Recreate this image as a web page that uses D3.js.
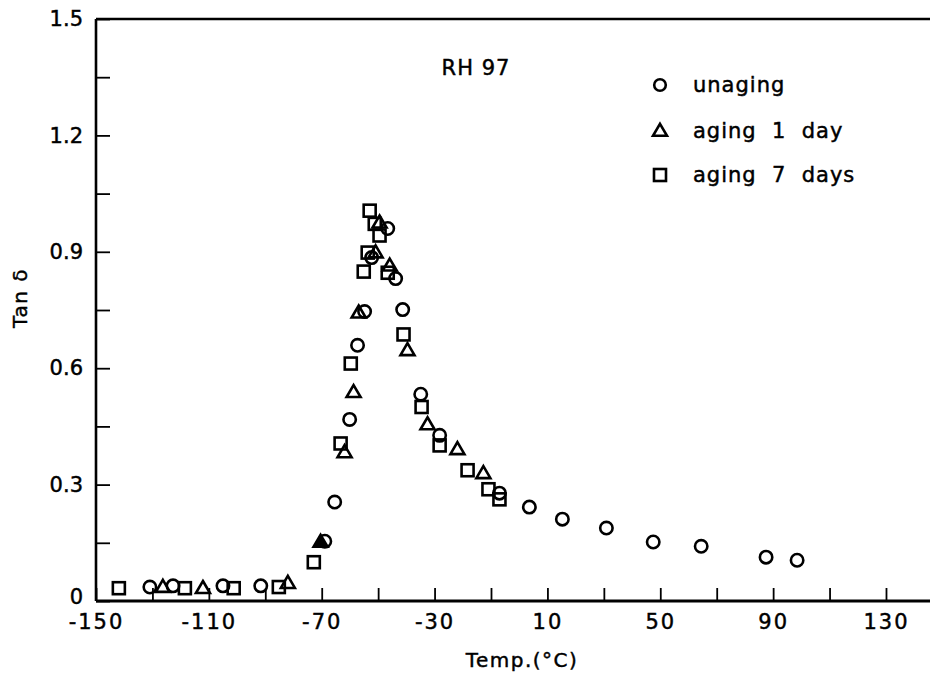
<!DOCTYPE html>
<html>
<head>
<meta charset="utf-8">
<script src="https://cdn.jsdelivr.net/npm/d3@7"></script>
<style>
  html, body { margin: 0; padding: 0; background: #fff; }
  svg text { font-family: "DejaVu Sans", sans-serif; fill: #000; white-space: pre; stroke: #000; stroke-width: 0.45px; }
</style>
</head>
<body>
<svg id="chart" width="930" height="678"></svg>
<script>
// ---- data ----
const unagingTemp = [-130.9, -122.7, -105.0, -91.6, -68.9, -65.4, -60.1, -57.3, -54.8, -52.3, -46.6, -43.8, -41.3, -34.9, -28.2, -7.0, 3.6, 15.3, 30.9, 47.5, 64.5, 87.5, 98.5];
const unagingTan  = [0.036, 0.039, 0.039, 0.039, 0.154, 0.255, 0.468, 0.659, 0.746, 0.885, 0.960, 0.831, 0.751, 0.533, 0.427, 0.278, 0.242, 0.211, 0.188, 0.152, 0.141, 0.113, 0.105];

const aging1Temp = [-126.3, -112.1, -82.0, -70.4, -61.9, -58.7, -56.9, -50.9, -49.5, -45.9, -39.6, -32.5, -21.9, -12.7];
const aging1Tan  = [0.036, 0.033, 0.046, 0.152, 0.383, 0.538, 0.743, 0.898, 0.975, 0.864, 0.646, 0.455, 0.391, 0.329];
const aging1Solid = [false, false, false, true, false, false, false, false, false, false, false, false, false, false];

const aging7Temp = [-141.9, -118.5, -101.2, -85.2, -72.8, -63.3, -59.7, -55.1, -53.7, -53.0, -51.2, -49.5, -46.6, -41.0, -34.6, -28.2, -18.3, -10.9, -7.0];
const aging7Tan  = [0.033, 0.033, 0.033, 0.036, 0.100, 0.406, 0.612, 0.849, 0.898, 1.006, 0.972, 0.942, 0.846, 0.687, 0.500, 0.401, 0.337, 0.288, 0.262];

const xTickValues = [-150, -110, -70, -30, 10, 50, 90, 130];
const xMinorTicks = [-150, -130, -110, -90, -70, -50, -30, -10, 10, 30, 50, 70, 90, 110, 130];
const yTickValues = [0, 0.3, 0.6, 0.9, 1.2, 1.5];
const yTickLabels = ["0", "0.3", "0.6", "0.9", "1.2", "1.5"];
const yMinorTicks = [0, 0.15, 0.3, 0.45, 0.6, 0.75, 0.9, 1.05, 1.2, 1.35, 1.5];

const seriesNames = ["unaging", "aging  1  day", "aging  7  days"];
const titleText = "RH 97";
const xTitle = "Temp.(°C)";
const yTitle = "Tan δ";

// ---- layout ----
const svg = d3.select("#chart");
const plotLeft = 96, plotRight = 930, plotTop = 19, plotBottom = 601;
const x = d3.scaleLinear().domain([-150, 145.6]).range([plotLeft, plotRight]);
const y = d3.scaleLinear().domain([0, 1.5]).range([plotBottom, plotTop]);

const stroke = "#000";
const sw = 2.6;

// frame lines (left axis, bottom axis, top line)
svg.append("line").attr("x1", plotLeft).attr("x2", plotLeft).attr("y1", plotTop).attr("y2", plotBottom)
  .attr("stroke", stroke).attr("stroke-width", 2.6);
svg.append("line").attr("x1", plotLeft).attr("x2", plotRight).attr("y1", plotBottom).attr("y2", plotBottom)
  .attr("stroke", stroke).attr("stroke-width", 2.8);
svg.append("line").attr("x1", plotLeft).attr("x2", plotRight).attr("y1", plotTop).attr("y2", plotTop)
  .attr("stroke", stroke).attr("stroke-width", 2.4);

// x axis: inward ticks, labels
const xAxis = d3.axisBottom(x).tickValues(xMinorTicks).tickSize(-13).tickFormat("");
const gx = svg.append("g").attr("transform", `translate(0,${plotBottom})`).call(xAxis);
gx.select(".domain").remove();
gx.selectAll(".tick line").attr("stroke", stroke).attr("stroke-width", 1.8);

const xLab = d3.axisBottom(x).tickValues(xTickValues).tickSize(0).tickPadding(13)
  .tickFormat(d => d < 0 ? "-" + Math.abs(d) : String(d));
const gxl = svg.append("g").attr("transform", `translate(0,${plotBottom})`).call(xLab);
gxl.select(".domain").remove();
gxl.selectAll("text").attr("font-size", 21).attr("font-family", "DejaVu Sans")
  .style("letter-spacing", "2px").attr("fill", "#000");

// y axis
const yAxis = d3.axisLeft(y).tickValues(yMinorTicks).tickSize(-14).tickFormat("");
const gy = svg.append("g").attr("transform", `translate(${plotLeft},0)`).call(yAxis);
gy.select(".domain").remove();
gy.selectAll(".tick line").attr("stroke", stroke).attr("stroke-width", 1.8);

const yLab = d3.axisLeft(y).tickValues(yTickValues).tickSize(0).tickPadding(13)
  .tickFormat((d, i) => yTickLabels[i]);
const gyl = svg.append("g").attr("transform", `translate(${plotLeft},0)`).call(yLab);
gyl.select(".domain").remove();
gyl.selectAll("text").attr("font-size", 21).attr("font-family", "DejaVu Sans").attr("fill", "#000")
  .attr("dy", (d) => d === 0 ? "0.1em" : "0.32em");

// axis titles
svg.append("text").attr("x", 522).attr("y", 667).attr("text-anchor", "middle")
  .attr("font-size", 20).style("letter-spacing", "1.5px").text(xTitle);
svg.append("text").attr("transform", "translate(27,298) rotate(-90)").attr("text-anchor", "middle")
  .attr("font-size", 20).style("letter-spacing", "1.5px").text(yTitle);

// annotation
svg.append("text").attr("x", 476).attr("y", 75).attr("text-anchor", "middle")
  .attr("font-size", 21).style("letter-spacing", "1px").text(titleText);

// marker helpers
const circleR = 6.2;
const sqHalf = 6;
const triH = 12, triW = 14;
function triPath(cx, cy) {
  return `M${cx},${cy - triH * 0.6}L${cx + triW / 2},${cy + triH * 0.4}L${cx - triW / 2},${cy + triH * 0.4}Z`;
}

const plot = svg.append("g");

// squares (aging 7 days)
plot.selectAll("rect.s7").data(aging7Temp.map((t, i) => [t, aging7Tan[i]])).enter()
  .append("rect").attr("class", "s7")
  .attr("x", d => x(d[0]) - sqHalf).attr("y", d => y(d[1]) - sqHalf)
  .attr("width", sqHalf * 2).attr("height", sqHalf * 2)
  .attr("fill", "none").attr("stroke", stroke).attr("stroke-width", sw);

// triangles (aging 1 day)
plot.selectAll("path.s1").data(aging1Temp.map((t, i) => [t, aging1Tan[i], aging1Solid[i]])).enter()
  .append("path").attr("class", "s1")
  .attr("d", d => triPath(x(d[0]), y(d[1])))
  .attr("fill", d => d[2] ? "#000" : "none").attr("stroke", stroke).attr("stroke-width", sw)
  .attr("stroke-linejoin", "miter");

// circles (unaging)
plot.selectAll("circle.s0").data(unagingTemp.map((t, i) => [t, unagingTan[i]])).enter()
  .append("circle").attr("class", "s0")
  .attr("cx", d => x(d[0])).attr("cy", d => y(d[1])).attr("r", circleR)
  .attr("fill", "none").attr("stroke", stroke).attr("stroke-width", sw);

// legend
const legX = 660, legTextX = 693;
const legY = [85, 131, 175];
const lg = svg.append("g");
lg.append("circle").attr("cx", legX).attr("cy", legY[0]).attr("r", circleR - 0.4)
  .attr("fill", "none").attr("stroke", stroke).attr("stroke-width", sw);
lg.append("path").attr("d", triPath(legX, legY[1]))
  .attr("fill", "none").attr("stroke", stroke).attr("stroke-width", sw);
lg.append("rect").attr("x", legX - sqHalf).attr("y", legY[2] - sqHalf)
  .attr("width", sqHalf * 2).attr("height", sqHalf * 2)
  .attr("fill", "none").attr("stroke", stroke).attr("stroke-width", sw);
seriesNames.forEach((n, i) => {
  lg.append("text").attr("x", legTextX).attr("y", legY[i] + 7)
    .attr("font-size", 21).style("letter-spacing", "1px").text(n);
});
</script>
</body>
</html>
